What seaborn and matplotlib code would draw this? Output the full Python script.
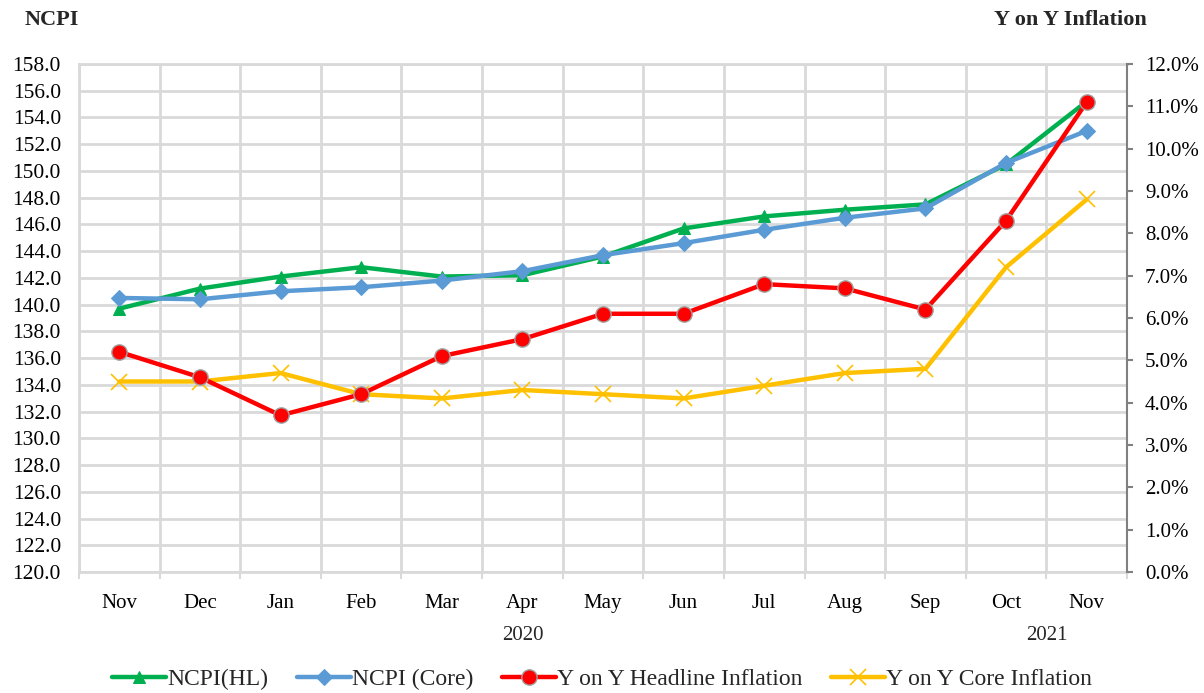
import matplotlib
matplotlib.use("Agg")
import matplotlib.pyplot as plt
import matplotlib.transforms as mtransforms
from matplotlib.ticker import MultipleLocator, FuncFormatter
import seaborn as sns
import pandas as pd
import numpy as np

months = ["Nov", "Dec", "Jan", "Feb", "Mar", "Apr", "May", "Jun", "Jul", "Aug", "Sep", "Oct", "Nov"]
ncpi_hl = [139.7, 141.2, 142.1, 142.8, 142.1, 142.2, 143.6, 145.7, 146.6, 147.1, 147.5, 150.5, 155.2]
ncpi_core = [140.5, 140.4, 141.0, 141.3, 141.8, 142.5, 143.7, 144.6, 145.6, 146.5, 147.2, 150.6, 153.0]
yoy_headline = [5.2, 4.6, 3.7, 4.2, 5.1, 5.5, 6.1, 6.1, 6.8, 6.7, 6.2, 8.3, 11.1]
yoy_core = [4.5, 4.5, 4.7, 4.2, 4.1, 4.3, 4.2, 4.1, 4.4, 4.7, 4.8, 7.2, 8.8]
years = ["2020", "2021"]

sns.set_theme(style="white")
plt.rcParams["font.family"] = ["Liberation Serif", "DejaVu Serif"]

fig = plt.figure(figsize=(12.04, 6.93), dpi=100)
W, H = 1204, 693
ax = fig.add_axes([79 / W, 1 - 572 / H, (1127 - 79) / W, (572 - 64) / H])
ax2 = ax.twinx()

x = np.arange(len(months))
df = pd.DataFrame({"x": x, "hl": ncpi_hl, "core": ncpi_core,
                   "yh": yoy_headline, "yc": yoy_core})

green, blue, red, yellow = "#00B050", "#5B9BD5", "#FF0000", "#FFC000"

sns.lineplot(data=df, x="x", y="hl", ax=ax, color=green, lw=3.2, marker="^",
             markersize=9, markeredgecolor=green, label="NCPI(HL)", zorder=3)
sns.lineplot(data=df, x="x", y="core", ax=ax, color=blue, lw=3.2, marker="D",
             markersize=8, markeredgecolor=blue, label="NCPI (Core)", zorder=4)
sns.lineplot(data=df, x="x", y="yh", ax=ax2, color=red, lw=3.2, marker="o",
             markersize=11, markeredgecolor="#A0A0A0", markeredgewidth=1,
             label="Y on Y Headline Inflation", zorder=4)
sns.lineplot(data=df, x="x", y="yc", ax=ax2, color=yellow, lw=3.2, marker="x",
             markersize=11, markeredgecolor=yellow, markeredgewidth=1.2,
             label="Y on Y Core Inflation", zorder=3)

ax.set_xlim(-0.5, len(months) - 0.5)
ax.set_ylim(120, 158)
ax2.set_ylim(0, 12)
ax.yaxis.set_major_locator(MultipleLocator(2))
ax.yaxis.set_major_formatter(FuncFormatter(lambda v, p: f"{v:.1f}"))
ax2.yaxis.set_major_locator(MultipleLocator(1))
ax2.yaxis.set_major_formatter(FuncFormatter(lambda v, p: f"{v:.1f}%"))

ax.set_xticks(x)
ax.set_xticklabels(months)
ax.set_xticks(np.arange(-0.5, len(months)), minor=True)
ax.tick_params(axis="x", which="major", length=0, pad=16, labelsize=15, colors="black")
ax.tick_params(axis="x", which="minor", length=5, width=1.5, color="#D9D9D9", bottom=True)
ax.tick_params(axis="y", length=0, pad=13, labelsize=15.5, colors="black")
ax2.tick_params(axis="y", length=4, width=1.5, color="#808080", pad=9, labelsize=15,
                colors="black", right=True)

ax.grid(False)
ax.grid(True, which="major", axis="y", color="#D9D9D9", lw=2)
ax.grid(True, which="minor", axis="x", color="#D9D9D9", lw=2)
ax2.grid(False)

ax.set_xlabel("")
ax.set_ylabel("")
ax2.set_xlabel("")
ax2.set_ylabel("")

for s in ["left", "top", "bottom"]:
    ax.spines[s].set_color("#D9D9D9")
    ax.spines[s].set_linewidth(2)
ax.spines["right"].set_visible(False)
for s in ["left", "top", "bottom"]:
    ax2.spines[s].set_visible(False)
ax2.spines["right"].set_color("#808080")
ax2.spines["right"].set_linewidth(1.5)

trans = mtransforms.blended_transform_factory(ax.transData, fig.transFigure)
ax.text(5, 1 - 635 / H, years[0], transform=trans, ha="center", va="center", fontsize=15)
ax.text(11.5, 1 - 635 / H, years[1], transform=trans, ha="center", va="center", fontsize=15)

fig.text(25 / W, 1 - 20 / H, "NCPI", ha="left", va="center", fontsize=16, fontweight="bold")
fig.text(1147 / W, 1 - 20 / H, "Y on Y Inflation", ha="right", va="center", fontsize=16,
         fontweight="bold")

h1, l1 = ax.get_legend_handles_labels()
h2, l2 = ax2.get_legend_handles_labels()
if ax.get_legend():
    ax.get_legend().remove()
if ax2.get_legend():
    ax2.get_legend().remove()
fig.legend(h1 + h2, l1 + l2, loc="center", bbox_to_anchor=(0.5, 1 - 679 / H), ncol=4,
           frameon=False, fontsize=17, handlelength=2.3, columnspacing=1.2, handletextpad=0.05)

fig.savefig("out.png", dpi=100)
